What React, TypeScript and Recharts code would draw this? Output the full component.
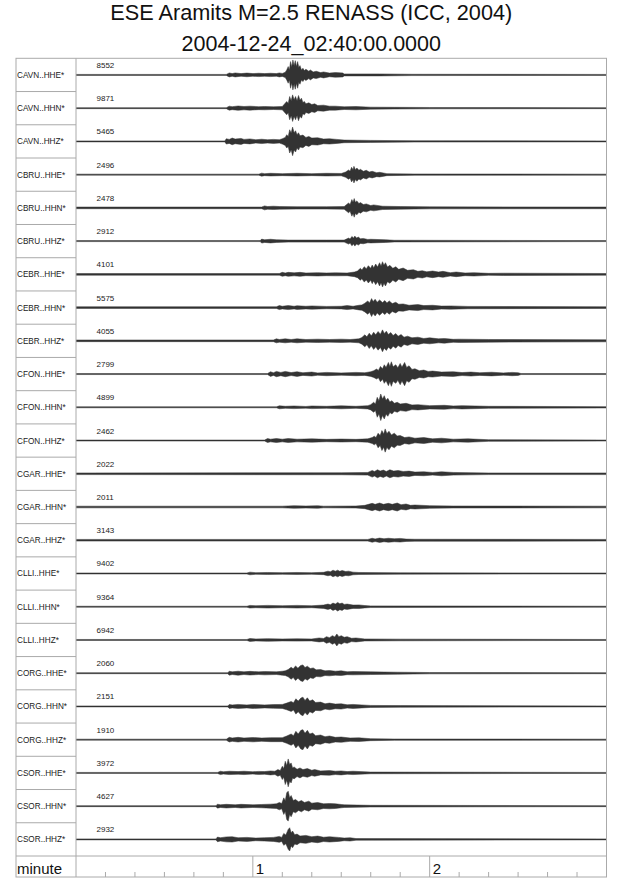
import { ComposedChart, Area, XAxis, YAxis } from 'recharts';

// station channels, top to bottom
const stations = [
  'CAVN..HHE*', 'CAVN..HHN*', 'CAVN..HHZ*',
  'CBRU..HHE*', 'CBRU..HHN*', 'CBRU..HHZ*',
  'CEBR..HHE*', 'CEBR..HHN*', 'CEBR..HHZ*',
  'CFON..HHE*', 'CFON..HHN*', 'CFON..HHZ*',
  'CGAR..HHE*', 'CGAR..HHN*', 'CGAR..HHZ*',
  'CLLI..HHE*', 'CLLI..HHN*', 'CLLI..HHZ*',
  'CORG..HHE*', 'CORG..HHN*', 'CORG..HHZ*',
  'CSOR..HHE*', 'CSOR..HHN*', 'CSOR..HHZ*',
];

const maxCounts = [
  8552, 9871, 5465, 2496, 2478, 2912, 4101, 5575, 4055, 2799, 4899, 2462,
  2022, 2011, 3143, 9402, 9364, 6942, 2060, 2151, 1910, 3972, 4627, 2932,
];

// seconds after 02:40:00, one tick every 10 s
const minuteTicks = [10, 20, 30, 40, 50, 60, 70, 80, 90, 100, 110, 120, 130, 140, 150, 160, 170];
const minuteLabels: Record<number, string> = { 60: '1', 120: '2' };

// envelope of each trace: [seconds, amplitude in % of half a row]
const cavnHHE = [[0, 3], [51, 3], [52, 12], [53, 8], [54, 12], [56, 8], [58, 11], [60, 8], [62, 10], [64, 8], [66, 10], [68, 8], [69, 12], [70, 9], [71, 16], [71.5, 30], [72, 50], [72.4, 30], [72.8, 80], [73.2, 48], [73.6, 90], [74, 55], [74.4, 86], [74.8, 50], [75.2, 80], [75.6, 44], [76, 56], [76.5, 30], [77, 40], [77.5, 26], [78, 34], [79, 22], [79.5, 30], [80.5, 18], [81.5, 22], [83, 14], [84, 18], [86, 11], [88, 14], [90.5, 12], [91, 6], [103, 6], [114, 4], [180, 3]];
const cavnHHN = [[0, 3], [51, 3], [52, 12], [53, 9], [55, 13], [57, 10], [59, 12], [62, 9], [64, 10], [67, 8], [70, 10], [71.5, 40], [72, 28], [72.5, 70], [73, 45], [73.5, 80], [74, 50], [74.5, 70], [75, 44], [75.5, 76], [76, 48], [76.5, 60], [77, 34], [77.5, 40], [78, 26], [79, 32], [80, 22], [81, 26], [82, 16], [84, 18], [86, 12], [88, 12], [91, 8], [95, 10], [100, 6], [108, 5], [120, 4], [180, 3]];
const cavnHHZ = [[0, 3], [50.5, 3], [51, 16], [52, 12], [53, 20], [54, 14], [56, 18], [57, 12], [59, 15], [61, 10], [63, 13], [65, 10], [67, 12], [69, 10], [70, 16], [71, 24], [71.5, 40], [72, 30], [72.5, 70], [73, 50], [73.5, 86], [74, 52], [74.5, 64], [75, 40], [75.5, 52], [76, 34], [77, 38], [78, 24], [79, 30], [80, 20], [82, 22], [84, 14], [86, 16], [88.5, 12], [91, 8], [100, 6], [115, 4], [180, 3]];
const cbruHHE = [[0, 3], [62, 3], [63, 9], [64, 6], [66, 8], [70, 6], [75, 8], [80, 6], [85, 8], [90, 7], [91.5, 16], [92.5, 28], [93, 20], [93.5, 44], [94, 30], [94.3, 50], [94.8, 30], [95.3, 40], [96, 26], [96.5, 32], [97.5, 20], [98.5, 26], [99.5, 16], [100.5, 20], [102, 12], [103, 14], [105.5, 6], [115, 4], [180, 3]];
const cbruHHN = [[0, 5], [63, 5], [64, 12], [65, 8], [67, 10], [69, 8], [75, 7], [85, 7], [91, 8], [92.5, 30], [93, 20], [93.6, 50], [94, 34], [94.4, 56], [94.8, 34], [95.3, 42], [96, 26], [96.5, 32], [97.5, 20], [98.5, 24], [100, 14], [101, 18], [104, 10], [110, 8], [120, 6], [180, 5]];
const cbruHHZ = [[0, 3], [62.5, 3], [63, 12], [64, 8], [66, 11], [68, 8], [72, 6], [85, 6], [91, 6], [92.5, 18], [93, 12], [93.6, 28], [94.2, 18], [94.6, 30], [95.2, 18], [95.8, 24], [96.5, 14], [97.5, 16], [99, 10], [100, 11], [105, 8], [108, 5], [180, 3]];
const cebrHHE = [[0, 5], [69, 5], [70, 12], [71, 8], [72, 12], [74, 9], [76, 12], [78, 8], [82, 10], [85, 8], [88, 9], [92, 8], [94.5, 14], [95.5, 20], [96.5, 36], [97, 26], [97.8, 46], [98.5, 34], [99.2, 52], [100, 36], [100.5, 56], [101, 40], [101.7, 62], [102.3, 44], [103, 70], [103.5, 50], [104, 76], [104.5, 54], [105, 70], [105.7, 44], [106.5, 54], [107.5, 36], [108.5, 46], [109.5, 30], [111, 38], [112.5, 24], [114.5, 28], [116, 18], [117.5, 22], [119, 15], [121, 20], [123, 14], [124.5, 18], [127, 10], [129, 14], [132, 8], [135, 10], [140, 6], [145, 7], [180, 5]];
const cebrHHN = [[0, 5], [68, 5], [69, 12], [70, 8], [72, 12], [74, 8], [75, 11], [78, 8], [80, 10], [85, 7], [90, 8], [92, 12], [94, 8], [96, 14], [97, 16], [98, 26], [99, 40], [99.6, 28], [100.3, 54], [100.8, 36], [101.5, 50], [102.2, 32], [103, 46], [104, 30], [104.8, 42], [105.5, 28], [106.3, 40], [107.3, 24], [108.5, 32], [109.5, 20], [111, 22], [113, 14], [116, 18], [118, 12], [121, 14], [124, 9], [127, 10], [133, 7], [180, 5]];
const cebrHHZ = [[0, 5], [67, 5], [68, 12], [69, 8], [71, 12], [73, 8], [75, 12], [78, 8], [82, 10], [86, 8], [90, 10], [93, 8], [96, 12], [97, 20], [98, 36], [98.7, 24], [99.5, 46], [100.2, 30], [101, 52], [101.7, 36], [102.5, 56], [103.3, 40], [104, 66], [104.6, 44], [105.3, 58], [106, 38], [106.8, 50], [107.6, 32], [108.5, 44], [109.3, 28], [110.3, 38], [111.3, 22], [112.5, 28], [114, 18], [116, 22], [118, 14], [120, 18], [123, 12], [125, 14], [128, 9], [130, 10], [140, 8], [180, 6]];
const cfonHHE = [[0, 3], [65, 3], [66, 14], [67, 8], [68, 16], [69.5, 10], [71, 16], [73, 9], [75, 14], [77, 8], [80, 12], [82, 7], [85, 10], [90, 7], [95, 10], [98, 8], [100, 14], [101, 20], [102, 30], [102.6, 22], [103.3, 46], [104, 32], [104.6, 56], [105.2, 40], [106, 70], [106.5, 46], [107, 74], [107.6, 44], [108.5, 56], [109.2, 38], [110, 64], [110.6, 42], [111.5, 70], [112.2, 40], [113, 50], [114, 28], [115, 32], [116.5, 20], [118, 24], [119.5, 16], [121, 18], [124, 12], [128, 14], [131, 9], [134, 12], [137, 8], [141, 11], [145, 7], [148, 10], [150, 8], [151, 3], [180, 3]];
const cfonHHN = [[0, 3], [68, 3], [69, 9], [71, 6], [74, 8], [78, 5], [80, 8], [85, 6], [90, 9], [95, 6], [99, 10], [100, 16], [101, 30], [101.6, 20], [102.2, 60], [102.8, 40], [103.4, 80], [104, 50], [104.6, 70], [105.2, 42], [105.8, 54], [106.5, 32], [107.2, 40], [108, 24], [109, 30], [110, 20], [112, 24], [114, 14], [116, 16], [120, 10], [125, 12], [128, 8], [131, 10], [140, 6], [180, 4]];
const cfonHHZ = [[0, 3], [64, 3], [65, 12], [66, 8], [68, 12], [70, 8], [72, 12], [75, 8], [80, 10], [85, 7], [90, 9], [95, 7], [99, 10], [100.5, 18], [101.2, 26], [101.8, 18], [102.5, 44], [103.2, 30], [103.8, 60], [104.4, 40], [104.9, 70], [105.5, 42], [106.2, 56], [107, 34], [108, 44], [109, 28], [110, 30], [111.5, 18], [113, 22], [115, 14], [118, 18], [121, 10], [124, 14], [128, 8], [133, 10], [140, 5], [180, 3]];
const cgarHHE = [[0, 5], [90, 6], [99, 8], [100.5, 20], [101.3, 14], [102.3, 24], [103.2, 16], [104.3, 22], [105.3, 14], [106.5, 24], [107.8, 16], [109.3, 20], [111, 14], [113, 16], [115, 10], [118, 12], [121, 8], [124, 12], [128, 8], [140, 5], [180, 5]];
const cgarHHN = [[0, 5], [70, 5], [74, 8], [78, 6], [82, 8], [84, 5], [95, 6], [98, 10], [100.5, 22], [101.5, 16], [103, 24], [104.3, 16], [106, 22], [107.3, 16], [109, 24], [110.3, 14], [112, 18], [113.5, 10], [115, 12], [120, 8], [128, 6], [180, 5]];
const cgarHHZ = [[0, 5], [99, 5], [100.5, 12], [101.5, 8], [103, 13], [104.5, 9], [106, 12], [108, 9], [110, 11], [112, 7], [115, 6], [180, 5]];
const clliHHE = [[0, 3], [58, 3], [59, 8], [61, 5], [65, 6], [70, 5], [75, 6], [80, 5], [84, 7], [85.5, 14], [86.3, 10], [87.2, 20], [88, 14], [88.8, 20], [89.5, 13], [90.3, 18], [91.5, 12], [92.5, 14], [94, 8], [96, 6], [110, 4], [180, 3]];
const clliHHN = [[0, 3], [58, 3], [59, 8], [61, 6], [65, 8], [70, 6], [75, 8], [80, 6], [84, 10], [85.5, 16], [86.3, 12], [87.2, 22], [88, 16], [88.8, 26], [89.5, 18], [90.3, 22], [91, 14], [92, 16], [94, 10], [96, 11], [98, 7], [100, 5], [180, 3]];
const clliHHZ = [[0, 3], [58, 3], [59, 9], [61, 6], [65, 8], [70, 6], [75, 7], [80, 6], [82.5, 12], [84, 9], [85, 20], [86, 14], [87, 26], [87.8, 18], [88.5, 36], [89.2, 20], [90, 26], [91, 16], [92, 20], [93.5, 10], [95, 12], [98, 6], [110, 5], [180, 3]];
const corgHHE = [[0, 3], [51.5, 3], [52, 12], [53, 8], [55, 12], [57, 8], [59, 11], [62, 8], [64, 10], [68, 8], [70, 12], [71, 14], [72, 22], [73, 36], [73.7, 26], [74.5, 44], [75.3, 30], [76.2, 46], [77, 50], [77.7, 34], [78.5, 42], [79.5, 28], [80.5, 32], [81.5, 20], [83, 22], [84.5, 14], [86, 16], [88, 12], [90, 14], [92, 9], [94, 10], [100, 8], [109, 6], [120, 4], [180, 3]];
const corgHHN = [[0, 3], [51.5, 3], [52, 12], [53, 9], [55, 12], [58, 9], [60, 12], [64, 9], [67, 11], [70, 12], [71.5, 20], [73, 30], [73.8, 22], [74.6, 46], [75.4, 32], [76.3, 50], [77, 56], [77.7, 36], [78.5, 52], [79.3, 32], [80.3, 40], [81.3, 24], [83, 26], [84.5, 16], [86, 20], [88, 14], [90, 16], [92, 10], [94, 12], [100, 6], [110, 5], [180, 3]];
const corgHHZ = [[0, 3], [51, 3], [52, 14], [53, 10], [55, 14], [57, 10], [60, 13], [63, 10], [66, 12], [70, 12], [71.5, 22], [73, 34], [73.8, 24], [74.6, 50], [75.4, 34], [76.3, 56], [77, 60], [77.7, 38], [78.5, 56], [79.3, 34], [80.3, 40], [81.3, 24], [83, 28], [84.5, 18], [86, 22], [88, 14], [90, 16], [93, 10], [96, 11], [100, 6], [108, 4], [180, 3]];
const csorHHE = [[0, 3], [48, 3], [49, 10], [50, 7], [52, 10], [55, 8], [57, 10], [60, 7], [62, 9], [64, 8], [66, 12], [67.5, 10], [68.5, 20], [69.3, 14], [70, 40], [70.5, 26], [71, 70], [71.5, 44], [72, 84], [72.5, 50], [73, 60], [73.5, 30], [74, 36], [75, 22], [76, 30], [77, 20], [78.5, 26], [80, 16], [81, 20], [83, 12], [86, 14], [88, 10], [90, 12], [92, 8], [94, 10], [100, 5], [180, 3]];
const csorHHN = [[0, 3], [47.5, 3], [48, 12], [49, 8], [51, 11], [54, 8], [56, 11], [60, 8], [63, 10], [66, 12], [68, 14], [69, 22], [69.8, 16], [70.5, 50], [71, 32], [71.5, 80], [72, 90], [72.5, 50], [73, 64], [73.7, 34], [74.5, 40], [75.5, 26], [76.5, 34], [77.5, 22], [79, 30], [80, 18], [82, 22], [84, 14], [86, 16], [88, 14], [90, 10], [91, 8], [100, 5], [180, 3]];
const csorHHZ = [[0, 3], [47.5, 3], [48, 14], [49, 10], [51, 15], [53, 16], [55, 10], [58, 12], [61, 8], [64, 10], [67, 12], [69, 18], [69.8, 12], [70.5, 36], [71.2, 26], [72, 60], [72.5, 70], [73, 40], [73.5, 50], [74.2, 28], [75, 32], [76, 20], [78, 24], [80, 16], [82, 20], [84, 13], [86, 16], [89, 12], [91, 8], [93, 10], [95, 5], [180, 3]];

const traces = [
  cavnHHE, cavnHHN, cavnHHZ, cbruHHE, cbruHHN, cbruHHZ,
  cebrHHE, cebrHHN, cebrHHZ, cfonHHE, cfonHHN, cfonHHZ,
  cgarHHE, cgarHHN, cgarHHZ, clliHHE, clliHHN, clliHHZ,
  corgHHE, corgHHN, corgHHZ, csorHHE, csorHHN, csorHHZ,
];

// layout in page pixels (the wrapper is pinned to the page corner)
const W = 640;
const H = 878;
const M = { top: 58.3, right: 33.5, bottom: 1, left: 16 };
const LABEL_W = 60;
const AXIS_H = 21;
const PLOT_L = M.left + LABEL_W;
const PLOT_R = W - M.right;
const PLOT_B = H - M.bottom - AXIS_H;
const ROW_H = (PLOT_B - M.top) / stations.length;
const GRID = '#aaa';
const FONT = '"Liberation Sans", Arial, Helvetica, sans-serif';

const rowTicks = stations.map((_, i) => i + 0.5);

const StationTick = (props: any) => {
  const { x, y, payload } = props;
  const i = Math.floor(payload.value);
  return (
    <g fontFamily={FONT} fill="#222">
      <text x={x - LABEL_W + 1} y={y + 3} fontSize={8.2}>{stations[i]}</text>
      <text x={x + 20.5} y={y - 7} fontSize={8}>{maxCounts[i]}</text>
    </g>
  );
};

const MinuteTick = (props: any) => {
  const { x, y, payload } = props;
  const label = minuteLabels[payload.value];
  return (
    <g>
      <line x1={x} x2={x} y1={label ? y : y + AXIS_H - 5} y2={y + AXIS_H} stroke={GRID} strokeWidth={1} />
      {label && (
        <text x={x + 3} y={y + 17.5} fontSize={15} fontFamily={FONT} fill="#111">{label}</text>
      )}
    </g>
  );
};

export default function App() {
  return (
    <div style={{ position: 'absolute', left: 0, top: 0, width: W, height: H, overflow: 'hidden', background: '#fff' }}>
      <ComposedChart width={W} height={H} margin={M}>
        <XAxis
          type="number"
          dataKey="t"
          domain={[0, 180]}
          allowDataOverflow
          ticks={minuteTicks}
          interval={0}
          height={AXIS_H}
          tickSize={0}
          tickMargin={0}
          axisLine={false}
          tickLine={false}
          tick={<MinuteTick />}
        />
        <YAxis
          type="number"
          domain={[0, stations.length]}
          reversed
          allowDataOverflow
          ticks={rowTicks}
          interval={0}
          width={LABEL_W}
          tickSize={0}
          tickMargin={0}
          axisLine={false}
          tickLine={false}
          tick={<StationTick />}
        />
        {traces.map((knots, i) => (
          <Area
            key={stations[i]}
            data={knots.map(([t, a]) => ({ t, band: [i + 0.5 - a / 200, i + 0.5 + a / 200] }))}
            dataKey="band"
            type="linear"
            stroke="#333"
            strokeWidth={0.5}
            fill="#000"
            fillOpacity={0.8}
            dot={false}
            activeDot={false}
            isAnimationActive={false}
          />
        ))}
      </ComposedChart>
      <svg
        width={W}
        height={H}
        style={{ position: 'absolute', left: 0, top: 0, pointerEvents: 'none' }}
        fontFamily={FONT}
      >
        <text x={(M.left + PLOT_R) / 2} y={20} textAnchor="middle" fontSize={21.7} fill="#111">
          ESE Aramits M=2.5 RENASS (ICC, 2004)
        </text>
        <text x={(M.left + PLOT_R) / 2} y={50.5} textAnchor="middle" fontSize={21.5} fill="#111">
          2004-12-24_02:40:00.0000
        </text>
        <g stroke={GRID} strokeWidth={1} fill="none">
          <rect x={M.left} y={M.top} width={PLOT_R - M.left} height={PLOT_B + AXIS_H - M.top} />
          <line x1={PLOT_L} x2={PLOT_L} y1={M.top} y2={PLOT_B + AXIS_H} />
          <line x1={M.left} x2={PLOT_R} y1={PLOT_B} y2={PLOT_B} />
          {stations.slice(1).map((s, i) => (
            <line key={s} x1={M.left} x2={PLOT_L} y1={M.top + (i + 1) * ROW_H} y2={M.top + (i + 1) * ROW_H} />
          ))}
        </g>
        <text x={M.left + 1} y={PLOT_B + 17.5} fontSize={15} fill="#111">minute</text>
      </svg>
    </div>
  );
}
